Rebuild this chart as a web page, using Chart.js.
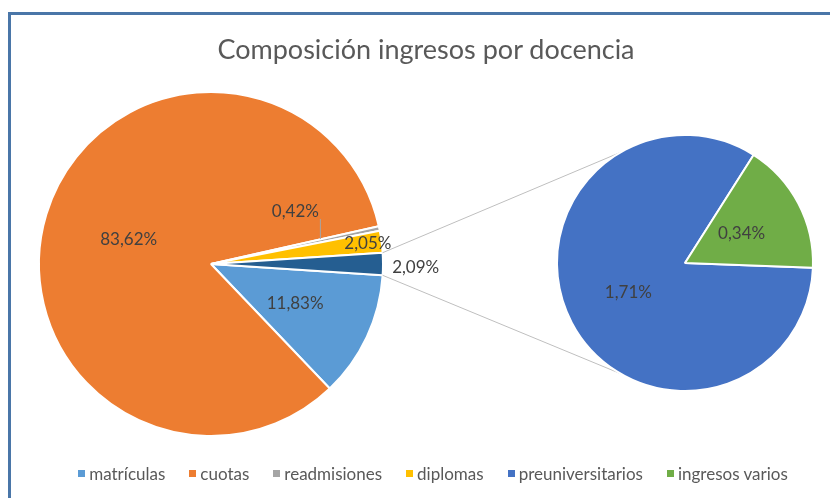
<!DOCTYPE html>
<html>
<head>
<meta charset="utf-8">
<script src="https://cdn.jsdelivr.net/npm/chart.js@4.4.0/dist/chart.umd.min.js"></script>
<style>
  html, body { margin: 0; padding: 0; background: #fff; }
  #wrap { position: relative; width: 830px; height: 498px; overflow: hidden; font-family: Lato, 'Open Sans', sans-serif; }
  #frame { position: absolute; left: 8px; top: 12px; width: 900px; height: 600px; border-left: 3px solid #4A76A8; border-top: 3px solid #4A76A8; }
  #mainChart { position: absolute; left: 0; top: 0; }
  #pieBox { position: absolute; left: 552px; top: 130px; }
  #title { position: absolute; left: 11px; width: 830px; top: 32px; text-align: center; font-size: 27px; color: #595959; }
  #legend { position: absolute; left: 18px; width: 830px; top: 463px; display: flex; justify-content: center; font-size: 17px; color: #595959; }
  #legend span.item { display: flex; align-items: center; margin: 0 12px; }
  #legend span.box { width: 7px; height: 7px; margin-right: 4px; }
</style>
</head>
<body>
<div id="wrap">
  <div id="frame"></div>
  <canvas id="mainChart" width="830" height="498"></canvas>
  <canvas id="pieBox" width="266" height="266"></canvas>
  <div id="title">Composición ingresos por docencia</div>
  <div id="legend"></div>
</div>
<script>
// Datos (porcentajes)
const categorias = ['matrículas', 'cuotas', 'readmisiones', 'diplomas'];
const valores = [11.83, 83.62, 0.42, 2.05];
const otrosValor = 2.09; // porción "otros" que se abre en el segundo círculo
const categorias2 = ['preuniversitarios', 'ingresos varios'];
const valores2 = [1.71, 0.34];

const colores = ['#5B9BD5', '#ED7D31', '#A5A5A5', '#FFC000'];
const colorOtros = '#255E91';
const colores2 = ['#4472C4', '#70AD47'];

const fmt = v => v.toFixed(2).replace('.', ',') + '%';

// Leyenda
const legend = document.getElementById('legend');
categorias.concat(categorias2).forEach((nombre, i) => {
    const color = colores.concat(colores2)[i];
    const item = document.createElement('span');
    item.className = 'item';
    item.innerHTML = '<span class="box" style="background:' + color + '"></span>' + nombre;
    legend.appendChild(item);
});

// Segundo círculo
const pie2 = new Chart(document.getElementById('pieBox'), {
    type: 'pie',
    data: {
        labels: categorias2,
        datasets: [{
            data: valores2,
            backgroundColor: colores2,
            borderColor: '#fff',
            borderWidth: 2
        }]
    },
    options: {
        responsive: false,
        animation: false,
        rotation: 92.1,
        layout: { padding: 4 },
        plugins: { legend: { display: false }, tooltip: { enabled: false } }
    },
    plugins: [{
        id: 'labels2',
        afterDatasetsDraw(chart) {
            const ctx = chart.ctx;
            ctx.save();
            ctx.font = '17px Lato';
            ctx.fillStyle = '#404040';
            ctx.textAlign = 'center';
            ctx.textBaseline = 'middle';
            chart.getDatasetMeta(0).data.forEach((arc, i) => {
                const p = arc.tooltipPosition();
                ctx.fillText(fmt(valores2[i]), p.x, p.y);
            });
            ctx.restore();
        }
    }]
});

// Posición de las etiquetas (fracción del radio)
const radioEtiqueta = [0.54, 0.5, 0.65, 0.92, 1.19];

const mainData = valores.concat([otrosValor]);
const total = mainData.reduce((a, b) => a + b, 0);

const mainChart = new Chart(document.getElementById('mainChart'), {
    type: 'pie',
    data: {
        labels: categorias.concat(['otros']),
        datasets: [{
            data: mainData,
            backgroundColor: colores.concat([colorOtros]),
            borderColor: '#fff',
            borderWidth: 2
        }]
    },
    options: {
        responsive: false,
        animation: false,
        rotation: 90 + (otrosValor / total) * 180,
        layout: { padding: { left: 38, right: 446, top: 91, bottom: 61 } },
        plugins: { legend: { display: false }, tooltip: { enabled: false } }
    },
    plugins: [{
        id: 'conectores',
        afterDatasetsDraw(chart) {
            const ctx = chart.ctx;
            const arcs = chart.getDatasetMeta(0).data;
            const otros = arcs[arcs.length - 1];
            const arc2 = pie2.getDatasetMeta(0).data[0];
            const box = document.getElementById('pieBox');
            const cx2 = box.offsetLeft + arc2.x, cy2 = box.offsetTop + arc2.y, r2 = arc2.outerRadius;
            const R = otros.outerRadius;
            const a1 = otros.startAngle, a2 = otros.endAngle;
            const ang = 120 * Math.PI / 180;
            ctx.save();
            ctx.strokeStyle = '#BFBFBF';
            ctx.lineWidth = 1;
            ctx.beginPath();
            ctx.moveTo(otros.x + R * Math.cos(a1), otros.y + R * Math.sin(a1));
            ctx.lineTo(cx2 + r2 * Math.cos(-ang), cy2 + r2 * Math.sin(-ang));
            ctx.moveTo(otros.x + R * Math.cos(a2), otros.y + R * Math.sin(a2));
            ctx.lineTo(cx2 + r2 * Math.cos(ang), cy2 + r2 * Math.sin(ang));
            ctx.stroke();

            // etiquetas
            ctx.font = '17px Lato';
            ctx.fillStyle = '#404040';
            ctx.textAlign = 'center';
            ctx.textBaseline = 'middle';
            arcs.forEach((arc, i) => {
                const mid = (arc.startAngle + arc.endAngle) / 2;
                const r = arc.outerRadius * radioEtiqueta[i];
                let x = arc.x + r * Math.cos(mid);
                let y = arc.y + r * Math.sin(mid);
                if (i === 2) {
                    // etiqueta desplazada con línea guía
                    ctx.strokeStyle = '#A5A5A5';
                    ctx.beginPath();
                    ctx.moveTo(x, y - 2);
                    ctx.lineTo(x, y - 22);
                    ctx.stroke();
                    x -= 25;
                    y -= 29;
                }
                if (i === 4) y += 4;
                ctx.fillText(fmt(mainData[i]), x, y);
            });
            ctx.restore();
        }
    }]
});
</script>
</body>
</html>
